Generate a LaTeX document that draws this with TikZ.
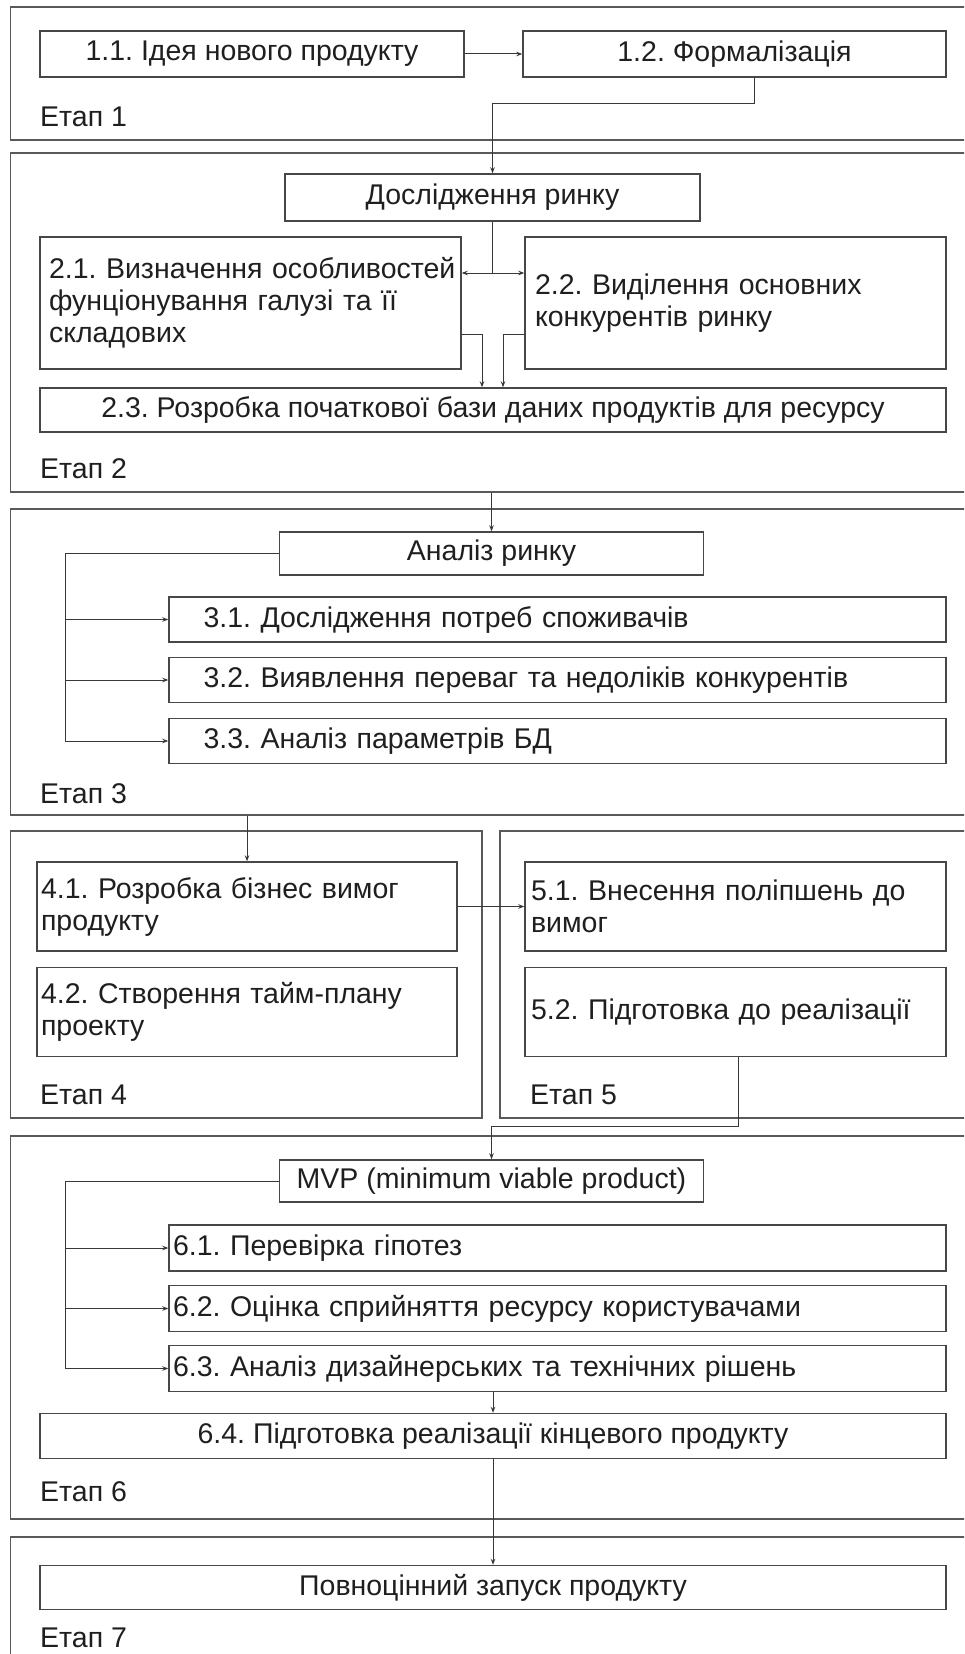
\documentclass[tikz,border=0pt]{standalone}
\usepackage{fontspec}
\setmainfont{Liberation Sans}
\usetikzlibrary{arrows.meta}
\frenchspacing
\begin{document}
\begin{tikzpicture}[x=1pt,y=-1pt,
  txt/.style={font=\fontsize{28.5}{32}\selectfont, text=black!88},
  box/.style={draw=black!72, line width=1.4pt, fill=white, inner sep=0pt, txt},
  frame/.style={draw=black!65, line width=1.4pt, inner sep=0pt},
  conn/.style={draw=black!78, line width=1pt},
  arr/.style={conn, -{Stealth[length=6pt,width=4.5pt]}},
  lbl/.style={anchor=west, inner sep=0pt, txt}]
\useasboundingbox (0,0) rectangle (964,1654);
\clip (0,0) rectangle (964,1654);
\fill[white] (0,0) rectangle (964,1654);

% ---------- frames ----------
\node[frame, minimum width=969.5pt, minimum height=133pt] (f1) at (495.25,73.5) {};
\node[frame, minimum width=969.5pt, minimum height=339pt] (f2) at (495.25,322.5) {};
\node[frame, minimum width=969.5pt, minimum height=306pt] (f3) at (495.25,662) {};
\node[frame, minimum width=471.5pt, minimum height=287pt] (f4) at (246.25,974.5) {};
\node[frame, minimum width=480pt, minimum height=287pt] (f5) at (740,974.5) {};
\node[frame, minimum width=969.5pt, minimum height=383pt] (f6) at (495.25,1327.5) {};
\node[frame, minimum width=969.5pt, minimum height=140pt] (f7) at (495.25,1607) {};

% ---------- stage 1 ----------
\node[box, minimum width=424pt, minimum height=46pt] (b11) at (252,54) {1.1. Ідея нового продукту};
\node[box, minimum width=423pt, minimum height=46pt] (b12) at (734.5,54) {1.2. Формалізація};
\node[lbl] (l1) at (40,117) {Етап 1};

% ---------- stage 2 ----------
\node[box, minimum width=415pt, minimum height=47pt] (dr) at (492.5,197.5) {Дослідження ринку};
\node[box, text width=403pt, inner xsep=9pt, minimum height=132pt, align=left] (b21) at (250.5,303)
  {\mbox{2.1. Визначення особливостей}\\\mbox{фунціонування галузі та її}\\складових};
\node[box, text width=401pt, inner xsep=10pt, minimum height=132pt, align=left] (b22) at (735.5,303)
  {2.2. Виділення основних\\конкурентів ринку};
\node[box, minimum width=906pt, minimum height=44pt] (b23) at (493,410) {2.3. Розробка початкової бази даних продуктів для ресурсу};
\node[lbl] (l2) at (40,469) {Етап 2};

% ---------- stage 3 ----------
\node[box, minimum width=424pt, minimum height=43pt] (an) at (491.5,553.5) {Аналіз ринку};
\node[box, text width=708pt, inner xsep=34.5pt, minimum height=45pt, align=left] (b31) at (557.5,619.5) {3.1. Дослідження потреб споживачів};
\node[box, text width=708pt, inner xsep=34.5pt, minimum height=45pt, align=left] (b32) at (557.5,680) {3.2. Виявлення переваг та недоліків конкурентів};
\node[box, text width=708pt, inner xsep=34.5pt, minimum height=45pt, align=left] (b33) at (557.5,741) {3.3. Аналіз параметрів БД};
\node[lbl] (l3) at (40,794) {Етап 3};

% ---------- stage 4 / 5 ----------
\node[box, text width=412pt, inner xsep=4pt, minimum height=89pt, align=left] (b41) at (247,906.5)
  {4.1. Розробка бізнес вимог\\продукту};
\node[box, text width=412pt, inner xsep=4pt, minimum height=89pt, align=left] (b42) at (247,1012)
  {4.2. Створення тайм-плану\\проекту};
\node[box, text width=409pt, inner xsep=6pt, minimum height=89pt, align=left] (b51) at (735.5,906.5)
  {5.1. Внесення поліпшень до\\вимог};
\node[box, text width=409pt, inner xsep=6pt, minimum height=89pt, align=left] (b52) at (735.5,1012)
  {5.2. Підготовка до реалізації};
\node[lbl] (l4) at (40,1095) {Етап 4};
\node[lbl] (l5) at (530,1095) {Етап 5};

% ---------- stage 6 ----------
\node[box, minimum width=424pt, minimum height=42pt] (mvp) at (491.5,1181) {MVP (minimum viable product)};
\node[box, text width=769pt, inner xsep=4pt, minimum height=46pt, align=left] (b61) at (557.5,1248) {6.1. Перевірка гіпотез};
\node[box, text width=769pt, inner xsep=4pt, minimum height=46pt, align=left] (b62) at (557.5,1308.5) {6.2. Оцінка сприйняття ресурсу користувачами};
\node[box, text width=769pt, inner xsep=4pt, minimum height=46pt, align=left] (b63) at (557.5,1368.5) {6.3. Аналіз дизайнерських та технічних рішень};
\node[box, minimum width=906pt, minimum height=45pt] (b64) at (493,1436) {6.4. Підготовка реалізації кінцевого продукту};
\node[lbl] (l6) at (40,1492) {Етап 6};

% ---------- stage 7 ----------
\node[box, minimum width=906pt, minimum height=44pt] (b7) at (493,1587.5) {Повноцінний запуск продукту};
\node[lbl] (l7) at (40,1638) {Етап 7};

% ---------- connectors ----------
\coordinate (k1) at (754,103);
\coordinate (j2) at (492.5,273);
\coordinate (e21) at (482,334);
\coordinate (e22) at (503,334);
\coordinate (bus3) at (65,553.5);
\coordinate (k5) at (738,1126);
\coordinate (bus6) at (65,1181);

\draw[arr] (b11.east) -- (b12.west);
\draw[arr] (b12.south -| k1) -- (k1) -| (dr.north);

\draw[conn] (dr.south) -- (j2);
\draw[arr] (j2) -- (j2 -| b21.east);
\draw[arr] (j2) -- (j2 -| b22.west);
\draw[arr] (b21.east |- e21) -- (e21) -- (e21 |- b23.north);
\draw[arr] (b22.west |- e22) -- (e22) -- (e22 |- b23.north);

\draw[arr] (f2.south -| an.north) -- (an.north);
\draw[conn] (an.west) -- (bus3) -- (bus3 |- b33.west);
\draw[arr] (bus3 |- b31.west) -- (b31.west);
\draw[arr] (bus3 |- b32.west) -- (b32.west);
\draw[arr] (bus3 |- b33.west) -- (b33.west);

\draw[arr] (f3.south -| b41.north) -- (b41.north);
\draw[arr] (b41.east) -- (b51.west);
\draw[arr] (b52.south -| k5) -- (k5) -| (mvp.north);

\draw[conn] (mvp.west) -- (bus6) -- (bus6 |- b63.west);
\draw[arr] (bus6 |- b61.west) -- (b61.west);
\draw[arr] (bus6 |- b62.west) -- (b62.west);
\draw[arr] (bus6 |- b63.west) -- (b63.west);
\draw[arr] (b63.south -| b64.north) -- (b64.north);
\draw[arr] (b64.south) -- (b7.north);
\end{tikzpicture}
\end{document}
